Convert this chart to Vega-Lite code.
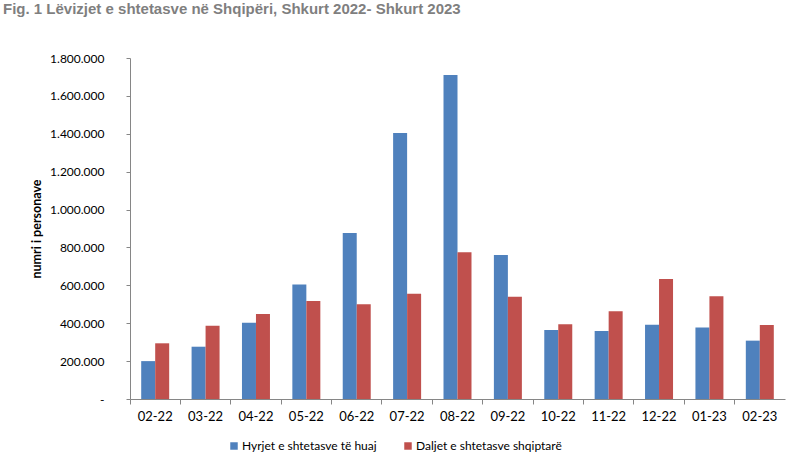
{
  "$schema": "https://vega.github.io/schema/vega-lite/v6.json",
  "autosize": {"type": "none"},
  "padding": {"left": 130, "top": 58, "right": 9, "bottom": 67},
  "width": 655,
  "height": 341,
  "background": "white",
  "title": {
    "text": "Fig. 1 Lëvizjet e shtetasve në Shqipëri, Shkurt 2022- Shkurt 2023",
    "anchor": "start",
    "frame": "group",
    "dx": -127,
    "offset": 35,
    "font": "Liberation Sans",
    "fontSize": 15,
    "fontWeight": "bold",
    "color": "#7f7f7f"
  },
  "data": {
    "values": [
      {"muaji": "02-22", "seria": "Hyrjet e shtetasve të huaj", "vlera": 200000},
      {"muaji": "02-22", "seria": "Daljet e shtetasve shqiptarë", "vlera": 294000},
      {"muaji": "03-22", "seria": "Hyrjet e shtetasve të huaj", "vlera": 276000},
      {"muaji": "03-22", "seria": "Daljet e shtetasve shqiptarë", "vlera": 387000},
      {"muaji": "04-22", "seria": "Hyrjet e shtetasve të huaj", "vlera": 403000},
      {"muaji": "04-22", "seria": "Daljet e shtetasve shqiptarë", "vlera": 449000},
      {"muaji": "05-22", "seria": "Hyrjet e shtetasve të huaj", "vlera": 605000},
      {"muaji": "05-22", "seria": "Daljet e shtetasve shqiptarë", "vlera": 517000},
      {"muaji": "06-22", "seria": "Hyrjet e shtetasve të huaj", "vlera": 876000},
      {"muaji": "06-22", "seria": "Daljet e shtetasve shqiptarë", "vlera": 500000},
      {"muaji": "07-22", "seria": "Hyrjet e shtetasve të huaj", "vlera": 1404000},
      {"muaji": "07-22", "seria": "Daljet e shtetasve shqiptarë", "vlera": 556000},
      {"muaji": "08-22", "seria": "Hyrjet e shtetasve të huaj", "vlera": 1710000},
      {"muaji": "08-22", "seria": "Daljet e shtetasve shqiptarë", "vlera": 774000},
      {"muaji": "09-22", "seria": "Hyrjet e shtetasve të huaj", "vlera": 760000},
      {"muaji": "09-22", "seria": "Daljet e shtetasve shqiptarë", "vlera": 540000},
      {"muaji": "10-22", "seria": "Hyrjet e shtetasve të huaj", "vlera": 364000},
      {"muaji": "10-22", "seria": "Daljet e shtetasve shqiptarë", "vlera": 394000},
      {"muaji": "11-22", "seria": "Hyrjet e shtetasve të huaj", "vlera": 359000},
      {"muaji": "11-22", "seria": "Daljet e shtetasve shqiptarë", "vlera": 463000},
      {"muaji": "12-22", "seria": "Hyrjet e shtetasve të huaj", "vlera": 392000},
      {"muaji": "12-22", "seria": "Daljet e shtetasve shqiptarë", "vlera": 633000},
      {"muaji": "01-23", "seria": "Hyrjet e shtetasve të huaj", "vlera": 378000},
      {"muaji": "01-23", "seria": "Daljet e shtetasve shqiptarë", "vlera": 542000},
      {"muaji": "02-23", "seria": "Hyrjet e shtetasve të huaj", "vlera": 308000},
      {"muaji": "02-23", "seria": "Daljet e shtetasve shqiptarë", "vlera": 391000}
    ]
  },
  "mark": {"type": "bar"},
  "encoding": {
    "x": {
      "field": "muaji",
      "type": "nominal",
      "sort": null,
      "scale": {"paddingInner": 0, "paddingOuter": 0},
      "axis": {
        "title": null,
        "labelAngle": 0,
        "bandPosition": 0,
        "labelFont": "Lato",
        "labelFontSize": 13,
        "labelColor": "#000000",
        "labelPadding": 6,
        "tickSize": 5,
        "tickColor": "#868686",
        "domainColor": "#868686",
        "grid": false
      }
    },
    "xOffset": {
      "field": "seria",
      "type": "nominal",
      "sort": ["Hyrjet e shtetasve të huaj", "Daljet e shtetasve shqiptarë"],
      "scale": {"paddingInner": 0, "paddingOuter": 0.8}
    },
    "y": {
      "field": "vlera",
      "type": "quantitative",
      "scale": {"domain": [0, 1800000], "nice": false},
      "axis": {
        "title": "numri i personave",
        "titleFont": "Lato",
        "titleFontSize": 12.5,
        "titleFontWeight": "bold",
        "titleColor": "#000000",
        "titlePadding": 6,
        "values": [0, 200000, 400000, 600000, 800000, 1000000, 1200000, 1400000, 1600000, 1800000],
        "labelExpr": "datum.value == 0 ? '-' : replace(replace(format(datum.value, ','), ',', '.'), ',', '.')",
        "labelFont": "Lato",
        "labelFontSize": 12,
        "labelColor": "#000000",
        "labelPadding": 22,
        "tickSize": 4,
        "tickColor": "#868686",
        "domainColor": "#868686",
        "grid": false
      }
    },
    "color": {
      "field": "seria",
      "type": "nominal",
      "sort": ["Hyrjet e shtetasve të huaj", "Daljet e shtetasve shqiptarë"],
      "scale": {"range": ["#4F81BD", "#C0504D"]},
      "legend": {
        "title": null,
        "orient": "none",
        "direction": "horizontal",
        "legendX": 98,
        "legendY": 382,
        "symbolType": "square",
        "symbolSize": 56,
        "symbolStrokeWidth": 0,
        "labelFont": "Lato",
        "labelFontSize": 12,
        "labelColor": "#000000",
        "labelOffset": 2,
        "labelLimit": 400,
        "columnPadding": 25
      }
    }
  },
  "config": {
    "view": {"stroke": null}
  }
}
